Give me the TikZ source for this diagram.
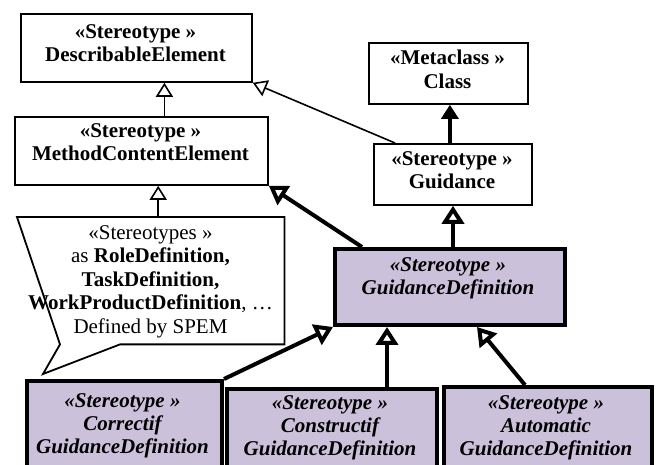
\documentclass[tikz,border=0pt]{standalone}
\usepackage{fontspec}
\setmainfont{Liberation Serif}
\usetikzlibrary{arrows.meta}
\definecolor{lavender}{RGB}{204,193,218}

\begin{document}
\begin{tikzpicture}[x=1pt,y=-1pt,
    box/.style={draw, line width=1.8pt, fill=white, inner sep=0pt, anchor=north west},
    defbox/.style={draw, line width=4pt, fill=lavender, inner sep=0pt, anchor=north west},
    txt/.style={anchor=north, align=center, inner sep=0pt, font=\fontsize{21}{23.5}\selectfont\bfseries},
    deftxt/.style={txt, font=\fontsize{21}{23}\selectfont\bfseries\itshape},
    gen/.style={-{Triangle[open,length=14pt,width=17pt]}, line width=1.6pt},
    gendef/.style={-{Triangle[open,length=18pt,width=22pt]}, line width=4pt},
    inst/.style={-{Triangle[length=14pt,width=17pt]}, line width=3.2pt}]
    \useasboundingbox (0,0) rectangle (657,465);
    \clip (0,0) rectangle (657,465);

    % SPEM side
    \node[box, minimum width=231pt, minimum height=68pt] (de) at (20,13) {};
    \node[txt] (de-txt) at (135.5,24) {«Stereotype »\\DescribableElement};
    \node[box, minimum width=253pt, minimum height=68pt] (mce) at (14,116) {};
    \node[txt] (mce-txt) at (140.5,123) {«Stereotype »\\MethodContentElement};

    % UML side
    \node[box, minimum width=159pt, minimum height=61pt] (cls) at (368,42) {};
    \node[txt] (cls-txt) at (447.5,50) {«Metaclass »\\Class};
    \node[box, minimum width=158pt, minimum height=61pt] (gdc) at (373,143) {};
    \node[txt] (gdc-txt) at (452,151) {«Stereotype »\\Guidance};

    % note with pointer
    \node[inner sep=0pt, minimum width=267pt, minimum height=127pt, anchor=north west] (note) at (17,217) {};
    \coordinate (notetip) at (43,374);
    \draw[line width=1.8pt, fill=white] (note.north west) -- (note.north east) -- (note.south east)
        -- ([xshift=103pt]note.south west) -- (notetip) -- ([xshift=43pt]note.south west) -- cycle;
    \node[txt, font=\fontsize{21}{23.5}\selectfont] (note-txt) at (150.5,225)
        {«Stereotypes »\\as \textbf{RoleDefinition,}\\\textbf{TaskDefinition,}\\\textbf{WorkProductDefinition}, …\\Defined by SPEM};

    % guidance definitions
    \node[defbox, minimum width=230pt, minimum height=76pt] (gd) at (333,247) {};
    \node[deftxt] (gd-txt) at (448,257) {«Stereotype »\\GuidanceDefinition};
    \node[defbox, minimum width=195pt, minimum height=100pt] (cor) at (25,379) {};
    \node[deftxt] (cor-txt) at (122.5,393) {«Stereotype »\\Correctif\\GuidanceDefinition};
    \node[defbox, minimum width=210pt, minimum height=100pt] (con) at (225,387) {};
    \node[deftxt] (con-txt) at (330,395) {«Stereotype »\\Constructif\\GuidanceDefinition};
    \node[defbox, minimum width=208pt, minimum height=100pt] (aut) at (442,385) {};
    \node[deftxt] (aut-txt) at (546,395) {«Stereotype »\\Automatic\\GuidanceDefinition};

    % generalisations
    \draw[gen] ([xshift=23pt]mce.north) -- ([xshift=23pt]mce.north |- de.south);
    \draw[gen] ([xshift=7.5pt]note.north) -- ([xshift=7.5pt]note.north |- mce.south);
    \draw[gen] ([xshift=22pt]gdc.north west) -- (de.south east);
    \draw[inst] ([xshift=-3pt]gdc.north) -- ([xshift=-3pt]gdc.north |- cls.south);
    \draw[gendef] ([xshift=3pt]gd.north) -- ([xshift=3pt]gd.north |- gdc.south);
    \draw[gendef] ([xshift=29pt]gd.north west) -- (mce.south east);
    \draw[gendef] (cor.north east) -- (gd.south west);
    \draw[gendef] ([xshift=55pt]con.north) -- ([xshift=55pt]con.north |- gd.south);
    \draw[gendef] ([xshift=-23pt]aut.north) -- ([xshift=144pt]gd.south west);
\end{tikzpicture}
\end{document}
